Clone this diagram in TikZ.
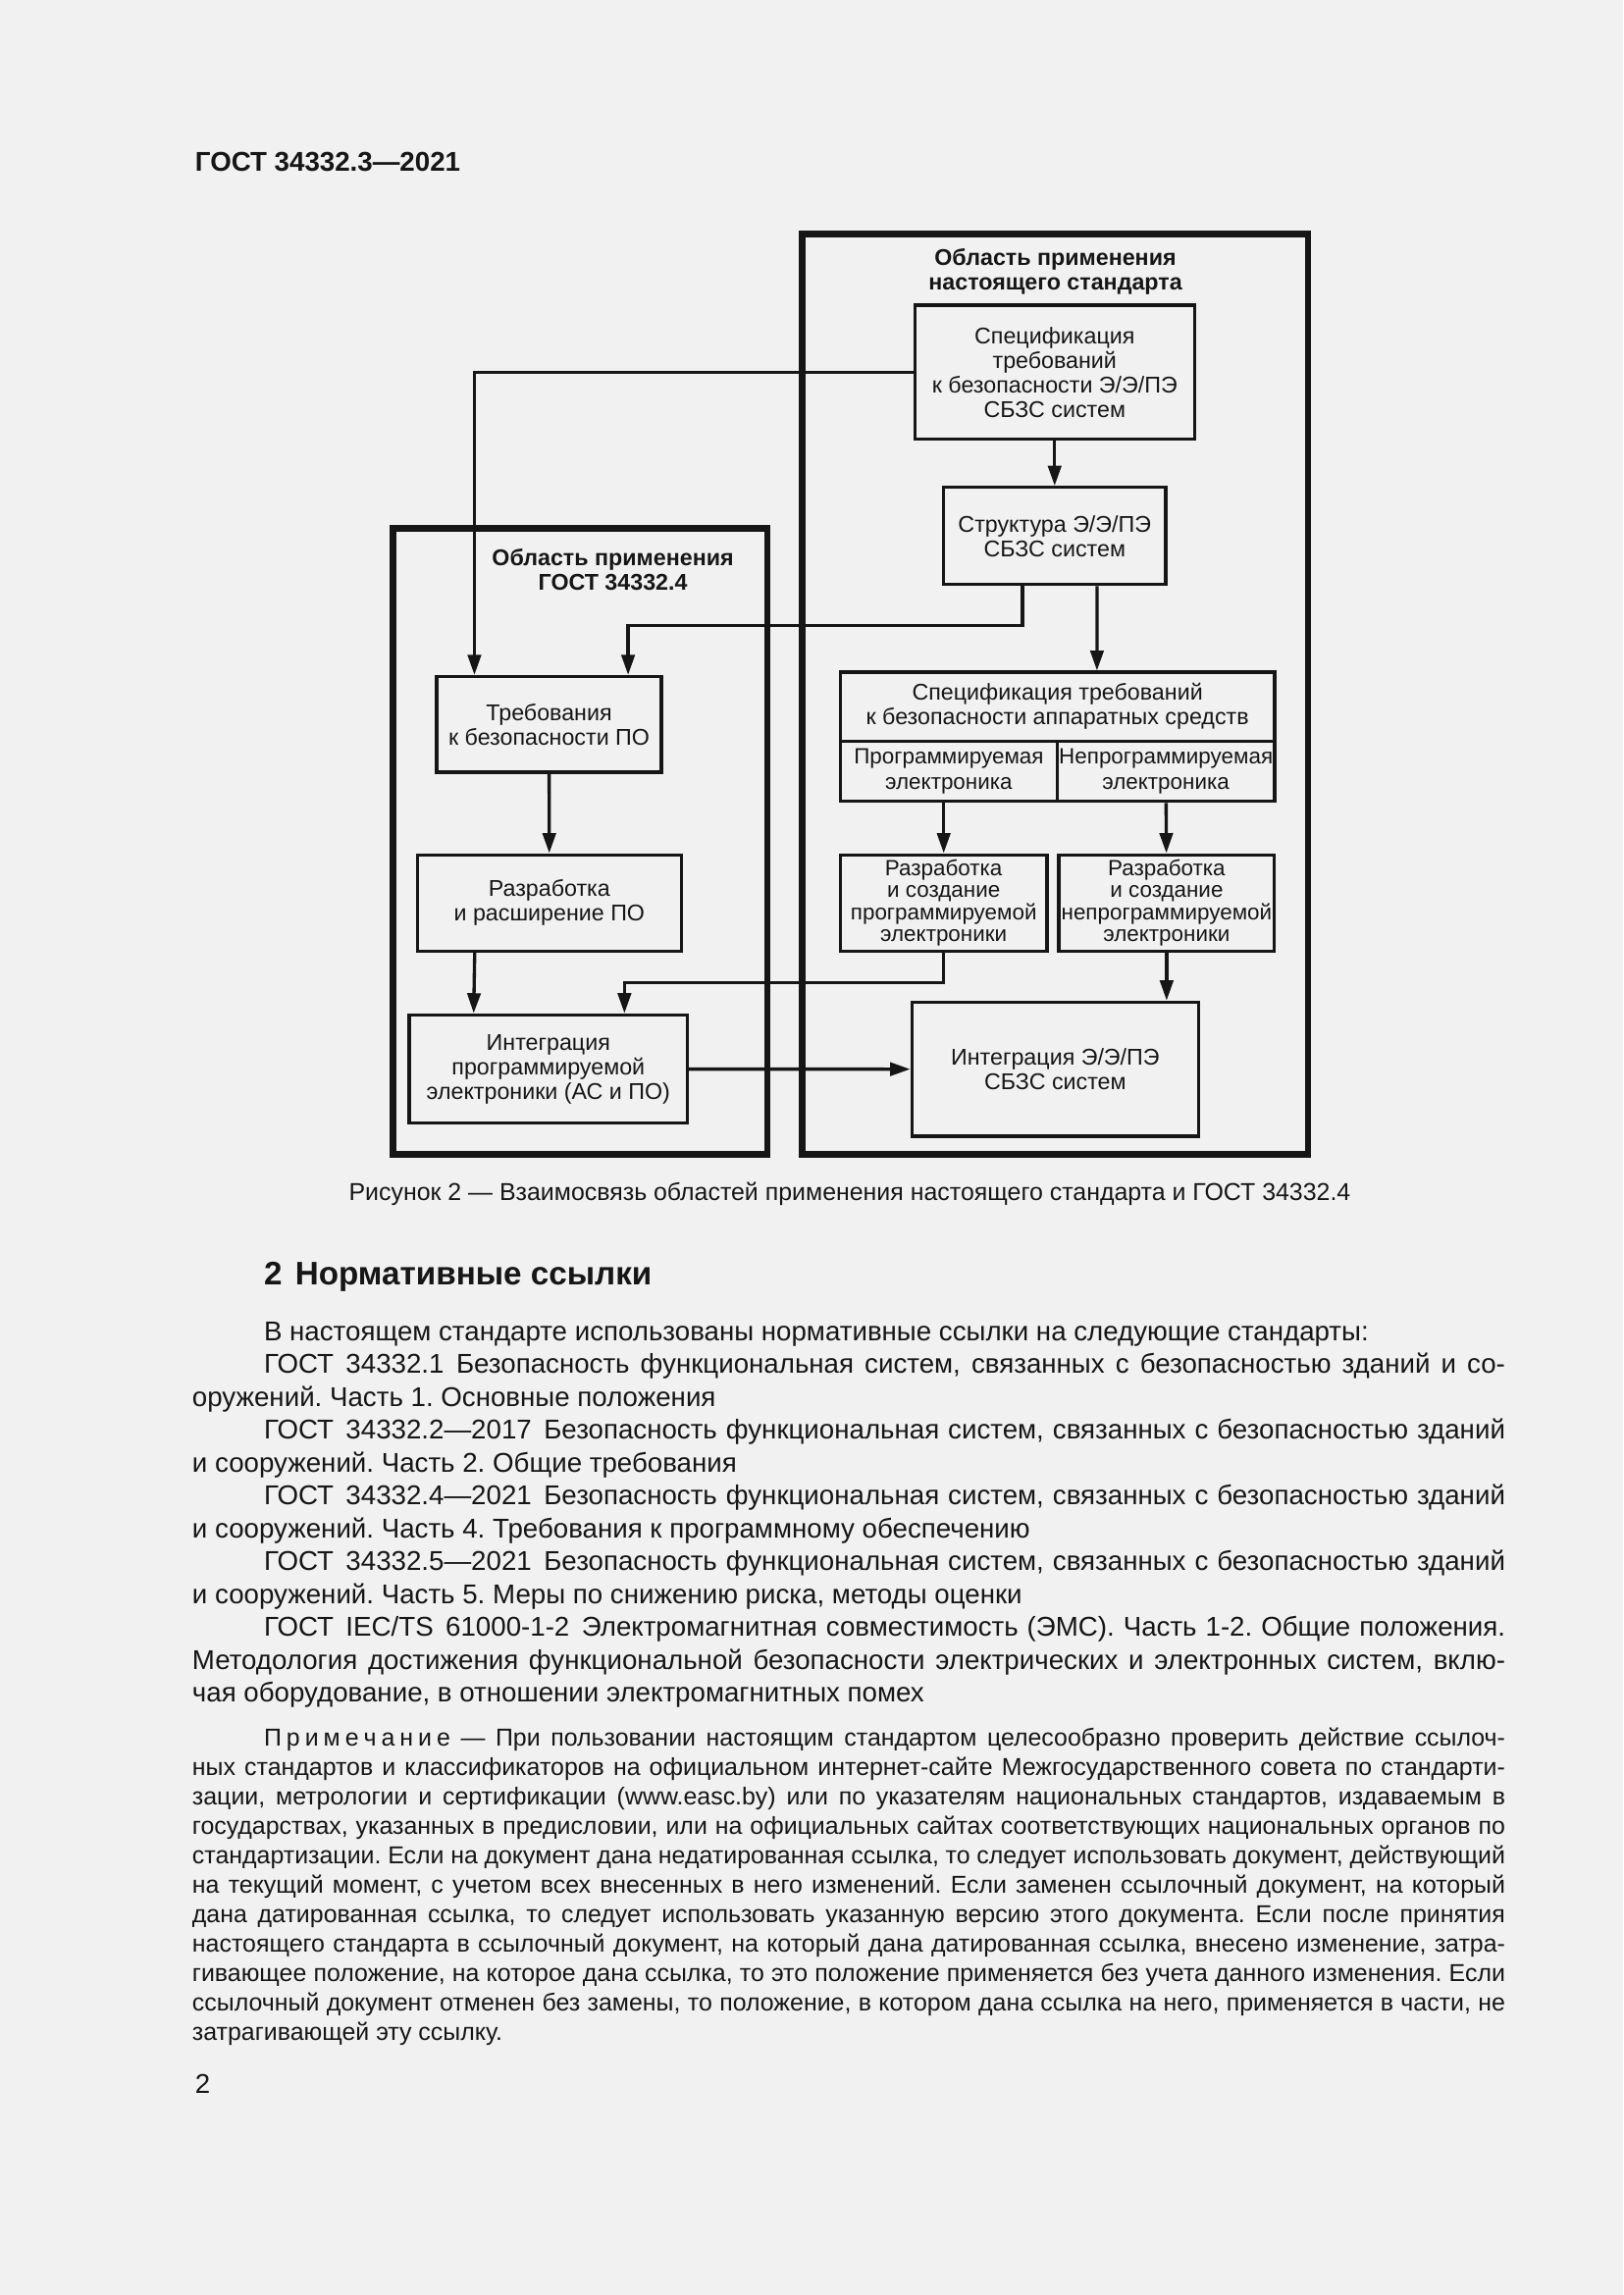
\documentclass[tikz,border=0pt]{standalone}
\usepackage{fontspec}
\setmainfont{Liberation Sans}
\usetikzlibrary{arrows.meta}
\definecolor{paper}{HTML}{F1F1F1}
\definecolor{ink}{HTML}{161616}
\def\px{0.18936mm}
\def\gsp{\hspace{.45em}}
\def\ls{\hspace{.2em}}
\def\parfont{\frenchspacing\setlength{\parindent}{9.28mm}\tolerance=9999 \hyphenpenalty=10000 \exhyphenpenalty=10000 \hspace*{\parindent}}

\begin{document}
\begin{tikzpicture}[x=\px,y=-\px,line join=miter,color=ink,
	>={Triangle[length=2.6mm,width=1.7mm]},
	box/.style={draw,line width=1.2pt,align=center,inner sep=0pt,font=\fontsize{8.4}{9}\selectfont},
	tight/.style={font=\fontsize{8.1}{8.1}\selectfont},
	bx/.style 2 args={minimum width=#1*\px,minimum height=#2*\px},
	frame/.style={draw,line width=2.4pt,inner sep=0pt},
	area/.style={align=center,font=\bfseries\fontsize{8.4}{9}\selectfont},
	link/.style={line width=1.2pt,->},
	txt/.style={anchor=base west,inner sep=0pt},
	para/.style={txt,text width=897*\px,align=justify}]
	% page
	\fill[paper] (0,0) rectangle (1109,1568);
	\node[txt,font=\bfseries\fontsize{10}{12}\selectfont] (head) at (133,117) {ГОСТ 34332.3—2021};
	% scopes
	\node[frame,bx={345.6}{628.5}] (stdarea) at (720.8,474.25) {};
	\node[frame,bx={255.8}{427.7}] (gostarea) at (396.4,574.65) {};
	\node[area] (stdtitle) at (721,185.5) {Область применения\\настоящего стандарта};
	\node[area] (gosttitle) at (418.7,389) {Область применения\\ГОСТ 34332.4};
	% boxes
	\node[box,bx={191}{91.5}] (spec) at (720.5,254.3) {Спецификация\\требований\\к безопасности Э/Э/ПЭ\\СБЗС систем};
	\node[box,bx={152}{66.4}] (struct) at (720.5,366.2) {Структура Э/Э/ПЭ\\СБЗС систем};
	\node[box,bx={153.4}{65.3}] (swreq) at (375.1,494.9) {Требования\\к безопасности ПО};
	\node[box,bx={180.5}{65.8}] (swdev) at (375.3,616.9) {Разработка\\и расширение ПО};
	\node[box,bx={190}{74}] (peint) at (374.6,730.4) {Интеграция\\программируемой\\электроники (АС и ПО)};
	\node[box,bx={296.6}{47}] (hwspec) at (722.4,482.8) {Спецификация требований\\к безопасности аппаратных средств};
	\node[box,tight,bx={148.1}{41.2}] (pe) at (648.2,526.9) {Программируемая\\[1.5pt]электроника};
	\node[box,tight,bx={148.5}{41.2}] (npe) at (796.5,526.9) {Непрограммируемая\\[1.5pt]электроника};
	\node[box,tight,bx={141.1}{65.8}] (pedev) at (644.7,616.9) {Разработка\\и создание\\программируемой\\электроники};
	\node[box,tight,bx={147.3}{65.8}] (npedev) at (797,616.9) {Разработка\\и создание\\непрограммируемой\\электроники};
	\node[box,bx={195.9}{91.7}] (sysint) at (720.9,730.5) {Интеграция Э/Э/ПЭ\\СБЗС систем};
	% arrows
	\draw[link] (spec) -- (struct);
	\draw[link] (spec.west) -| ([shift={(-51,0)}]swreq.north);
	\draw[link] ([shift={(-22,0)}]struct.south) -- ++(0,27) -| ([shift={(54,0)}]swreq.north);
	\draw[link] ([shift={(29,0)}]struct.south) -- ([shift={(27,0)}]hwspec.north);
	\draw[link] (swreq) -- (swdev);
	\draw[link] ([shift={(-51,0)}]swdev.south) -- ([shift={(-51,0)}]peint.north);
	\draw[link] (pedev.north |- pe.south) -- (pedev.north);
	\draw[link] (npe) -- (npedev);
	\draw[link] (pedev.south) -- ++(0,20.5) -| ([shift={(52,0)}]peint.north);
	\draw[link] (npedev.south) -- (npedev.south |- sysint.north);
	\draw[link] (peint) -- (sysint);
	% text
	\node[anchor=base,inner sep=0pt,font=\fontsize{9}{11}\selectfont] (caption) at (580.5,820) {Рисунок 2 — Взаимосвязь областей применения настоящего стандарта и ГОСТ 34332.4};
	\node[txt,font=\bfseries\fontsize{12}{14}\selectfont] (sect) at (180,878) {2\hspace{.4em}Нормативные ссылки};
	\node[para,font=\fontsize{10}{12.09}\selectfont] (refs) at (131,916) {\parfont
	В настоящем стандарте использованы нормативные ссылки на следующие стандарты:\par
	ГОСТ\gsp 34332.1\gsp Безопасность функциональная систем, связанных с безопасностью зданий и со-\linebreak оружений. Часть 1. Основные положения\par
	ГОСТ\gsp 34332.2—2017\gsp Безопасность функциональная систем, связанных с безопасностью зданий\linebreak и сооружений. Часть 2. Общие требования\par
	ГОСТ\gsp 34332.4—2021\gsp Безопасность функциональная систем, связанных с безопасностью зданий\linebreak и сооружений. Часть 4. Требования к программному обеспечению\par
	ГОСТ\gsp 34332.5—2021\gsp Безопасность функциональная систем, связанных с безопасностью зданий\linebreak и сооружений. Часть 5. Меры по снижению риска, методы оценки\par
	ГОСТ\gsp IEC/TS\gsp 61000-1-2\gsp Электромагнитная совместимость (ЭМС). Часть 1-2. Общие положения.\linebreak Методология достижения функциональной безопасности электрических и электронных систем, вклю-\linebreak чая оборудование, в отношении электромагнитных помех};
	\node[para,font=\fontsize{9}{10.84}\selectfont] (note) at (131,1193) {\parfont
	П\ls р\ls и\ls м\ls е\ls ч\ls а\ls н\ls и\ls е — При пользовании настоящим стандартом целесообразно проверить действие ссылоч-\linebreak ных стандартов и классификаторов на официальном интернет-сайте Межгосударственного совета по стандарти-\linebreak зации, метрологии и сертификации (www.easc.by) или по указателям национальных стандартов, издаваемым в\linebreak государствах, указанных в предисловии, или на официальных сайтах соответствующих национальных органов по\linebreak стандартизации. Если на документ дана недатированная ссылка, то следует использовать документ, действующий\linebreak на текущий момент, с учетом всех внесенных в него изменений. Если заменен ссылочный документ, на который\linebreak дана датированная ссылка, то следует использовать указанную версию этого документа. Если после принятия\linebreak настоящего стандарта в ссылочный документ, на который дана датированная ссылка, внесено изменение, затра-\linebreak гивающее положение, на которое дана ссылка, то это положение применяется без учета данного изменения. Если\linebreak ссылочный документ отменен без замены, то положение, в котором дана ссылка на него, применяется в части, не\linebreak затрагивающей эту ссылку.};
	\node[txt,font=\fontsize{10}{12}\selectfont] (pagenum) at (133,1430) {2};
\end{tikzpicture}
\end{document}
